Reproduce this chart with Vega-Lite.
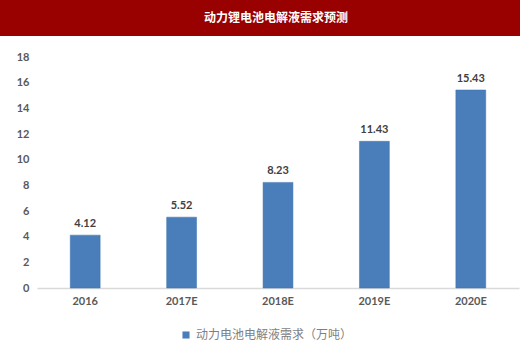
{
  "$schema": "https://vega.github.io/schema/vega-lite/v6.json",
  "padding": 0,
  "background": "white",
  "config": {"view": {"stroke": null}},
  "columns": 1,
  "align": "none",
  "spacing": 15,
  "concat": [
    {
      "width": 520,
      "height": 36,
      "view": {"fill": "#990000", "stroke": null},
      "data": {"values": [{"t": "动力锂电池电解液需求预测"}]},
      "mark": {"type": "text", "color": "white", "fontWeight": "bold", "fontSize": 12, "font": "Noto Sans CJK SC", "dx": 16},
      "encoding": {"text": {"field": "t"}}
    },
    {
      "width": 520,
      "height": 231,
      "data": {"values": [
        {"year": "2016", "value": 4.12, "series": "动力电池电解液需求（万吨）"},
        {"year": "2017E", "value": 5.52, "series": "动力电池电解液需求（万吨）"},
        {"year": "2018E", "value": 8.23, "series": "动力电池电解液需求（万吨）"},
        {"year": "2019E", "value": 11.43, "series": "动力电池电解液需求（万吨）"},
        {"year": "2020E", "value": 15.43, "series": "动力电池电解液需求（万吨）"}
      ]},
      "encoding": {
        "x": {"field": "year", "type": "nominal", "sort": null, "title": null,
              "scale": {"paddingInner": 0.69, "paddingOuter": 0.345, "range": [37, 519]},
              "axis": {"labelAngle": 0, "ticks": false, "domainColor": "#d9d9d9", "domainWidth": 1.5, "labelFont": "Lato", "labelFontWeight": "bold", "labelFontSize": 11, "labelColor": "#595959", "labelPadding": 7}},
        "y": {"field": "value", "type": "quantitative", "title": null,
              "scale": {"domain": [0, 18]},
              "axis": {"values": [0, 2, 4, 6, 8, 10, 12, 14, 16, 18], "offset": -37, "grid": false, "domain": false, "ticks": false, "labelFont": "Lato", "labelFontWeight": "bold", "labelFontSize": 11, "labelColor": "#595959", "labelPadding": 8}}
      },
      "layer": [
        {
          "mark": {"type": "bar", "stroke": "#3f72ad", "strokeWidth": 0.5},
          "encoding": {
            "color": {"field": "series", "type": "nominal", "scale": {"range": ["#4a7ebb"]},
                      "legend": {"title": null, "orient": "none", "legendX": 180, "legendY": 329, "direction": "horizontal", "symbolType": "square", "symbolSize": 50, "symbolStrokeWidth": 0, "labelFont": "Noto Sans CJK SC", "labelFontSize": 12, "labelColor": "#7f7f7f"}}
          }
        },
        {
          "mark": {"type": "text", "baseline": "bottom", "dy": -6, "font": "Lato", "fontWeight": "bold", "fontSize": 11, "color": "#404040"},
          "encoding": {"text": {"field": "value", "type": "quantitative", "format": ".2f"}}
        }
      ]
    }
  ]
}
